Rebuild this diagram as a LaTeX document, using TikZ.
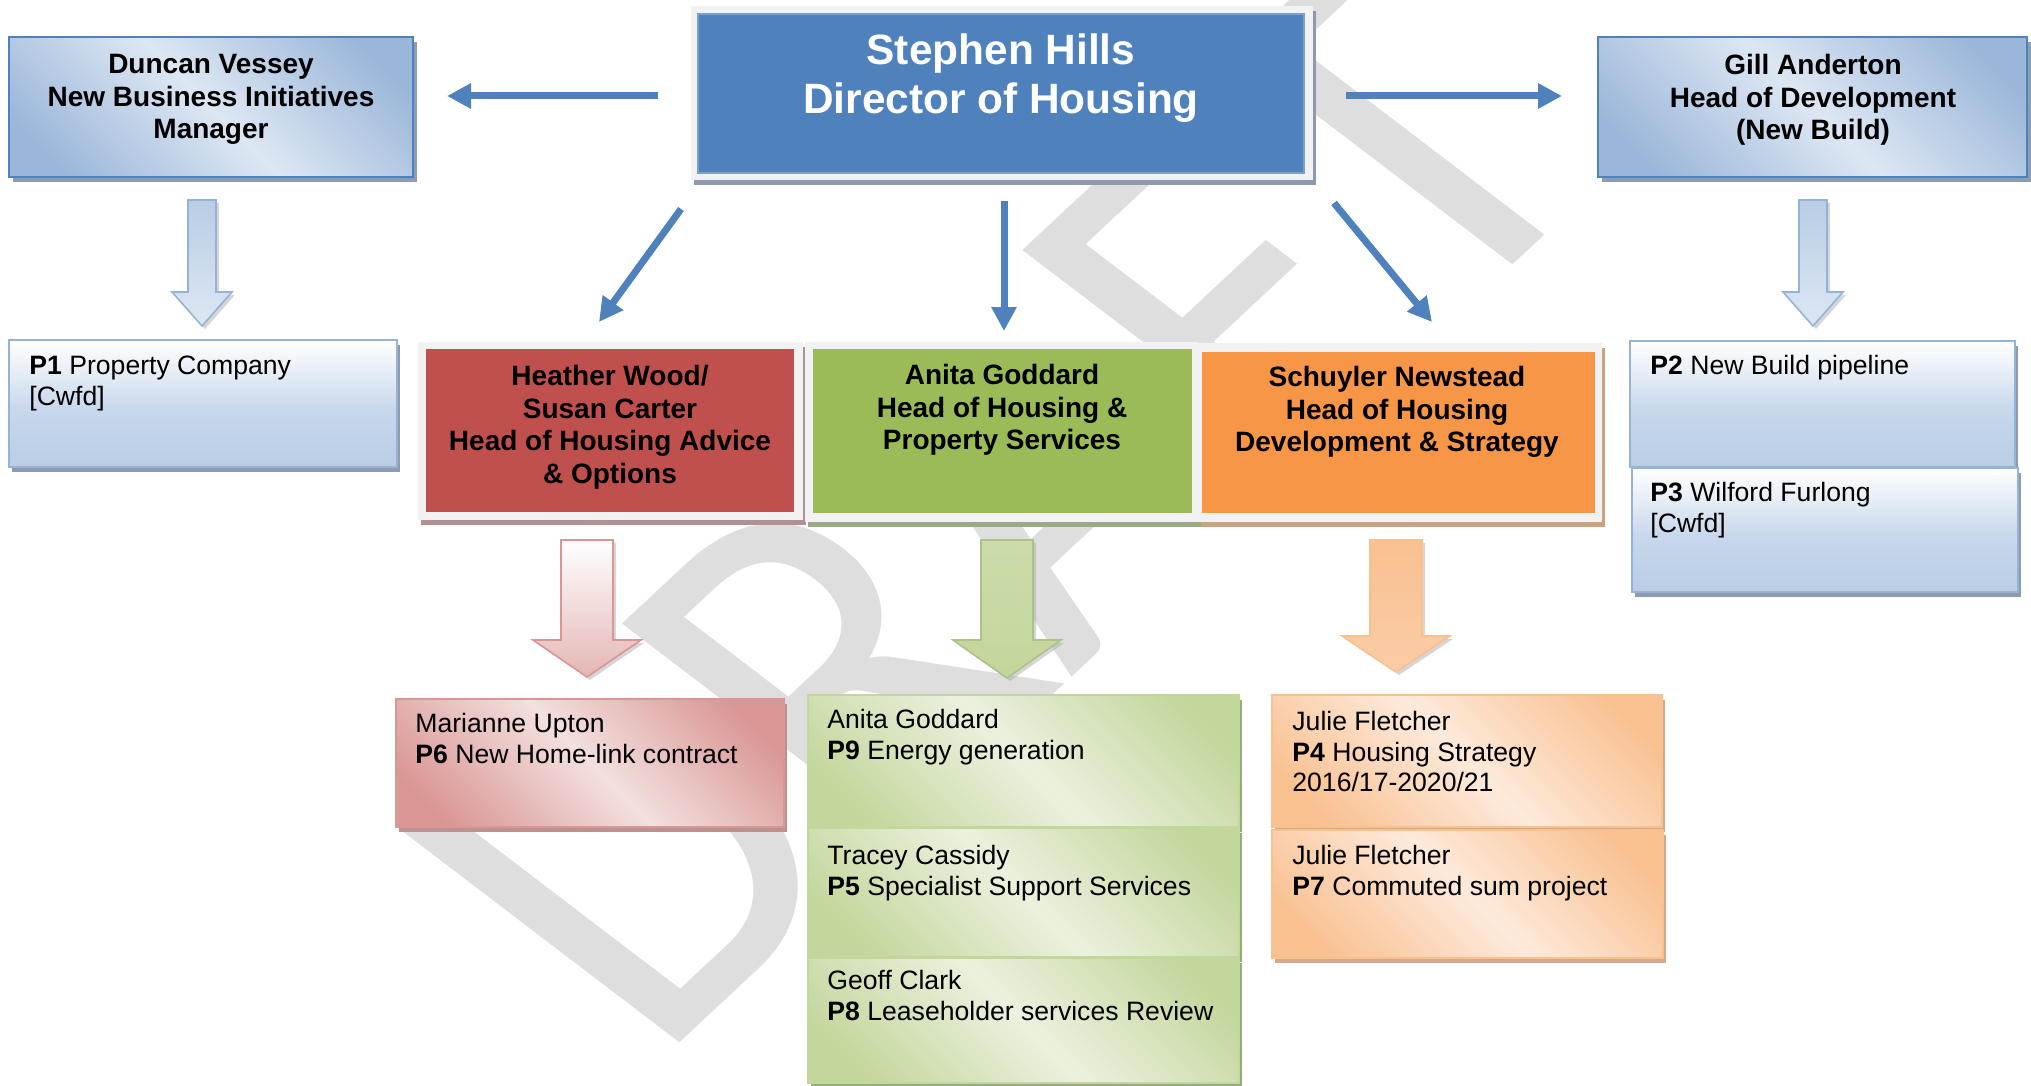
\documentclass[tikz,border=0pt]{standalone}
\usepackage{fontspec}
\setmainfont{Liberation Sans}
\newfontfamily\wmfont{Carlito}
\usetikzlibrary{arrows.meta,shadows}
\definecolor{hblue}{HTML}{4F81BD}
\definecolor{hred}{HTML}{C0504D}
\definecolor{hgreen}{HTML}{9BBB59}
\definecolor{horange}{HTML}{F79646}
\definecolor{frameC}{HTML}{F2F2F2}
\definecolor{wmC}{HTML}{DEDEDE}
\definecolor{bL}{HTML}{DDE7F3}
\definecolor{bD}{HTML}{9AB6D9}
\definecolor{bE}{HTML}{95B3D7}
\definecolor{pL}{HTML}{F3E0DF}
\definecolor{pD}{HTML}{D99694}
\definecolor{gL}{HTML}{EBF1DE}
\definecolor{gD}{HTML}{C3D69B}
\definecolor{oL}{HTML}{FDEADB}
\definecolor{oD}{HTML}{F9C090}
\definecolor{vBa}{HTML}{B9CDE5}
\definecolor{vBb}{HTML}{C8D8EC}
\definecolor{vBc}{HTML}{E6EDF6}
\definecolor{shB}{HTML}{8E9CB2}
\definecolor{shS}{HTML}{8D99AE}
\definecolor{shR}{HTML}{B09292}
\definecolor{shG}{HTML}{9AAA85}
\definecolor{shO}{HTML}{C9A282}
\definecolor{shP}{HTML}{BE9191}
\definecolor{shLG}{HTML}{98AB7C}
\definecolor{shLO}{HTML}{D2A98A}
\pgfdeclarehorizontalshading{diagB}{100bp}{color(0bp)=(bD); color(22bp)=(bD); color(50bp)=(bL); color(78bp)=(bD); color(100bp)=(bD)}
\pgfdeclarehorizontalshading{diagP}{100bp}{color(0bp)=(pD); color(22bp)=(pD); color(50bp)=(pL); color(78bp)=(pD); color(100bp)=(pD)}
\pgfdeclarehorizontalshading{diagG}{100bp}{color(0bp)=(gD); color(22bp)=(gD); color(50bp)=(gL); color(78bp)=(gD); color(100bp)=(gD)}
\pgfdeclarehorizontalshading{diagO}{100bp}{color(0bp)=(oD); color(22bp)=(oD); color(50bp)=(oL); color(78bp)=(oD); color(100bp)=(oD)}
\pgfdeclareverticalshading{vertB}{100bp}{color(0bp)=(vBa); color(25bp)=(vBa); color(48bp)=(vBb); color(62bp)=(vBc); color(75bp)=(white); color(100bp)=(white)}
\newcommand\blockarr[7]{\path[#1] (#2-#4,#3) -- (#2+#4,#3) -- (#2+#4,#6) -- (#2+#5,#6) -- (#2,#7) -- (#2-#5,#6) -- (#2-#4,#6) -- cycle;}
\begin{document}
\begin{tikzpicture}[x=0.5pt,y=-0.5pt,
  hdrtxt/.style={font=\bfseries\fontsize{14}{16.25}\selectfont, align=center, anchor=north, inner sep=0pt},
  lowtxt/.style={font=\fontsize{13.3}{15.25}\selectfont, align=left, anchor=north west, inner sep=0pt},
  hdrbox/.style={draw=hblue, line width=1.2pt, shading=diagB, shading angle=45, inner sep=0pt,
     drop shadow={shadow xshift=2pt, shadow yshift=-2.5pt, opacity=1, fill=shB}},
  framebox/.style={fill=frameC, inner sep=0pt, drop shadow={shadow xshift=1.5pt, shadow yshift=-2.5pt, opacity=1, fill=#1}},
  colbox/.style={fill=#1, inner sep=0pt},
  lowB/.style={draw=bE, line width=0.9pt, shading=vertB, inner sep=0pt,
     drop shadow={shadow xshift=1.5pt, shadow yshift=-2.5pt, opacity=1, fill=shB}},
  lowD/.style={draw=#1, line width=0.9pt, inner sep=0pt, shading angle=45},
  conn/.style={draw=hblue, line width=3.5pt, -{Triangle[length=12pt,width=12pt]}},
  bshadow/.style={fill=black!35, opacity=0.45, shift={(1.5pt,-1.5pt)}},
  wmark/.style={font=\wmfont\fontsize{245}{245}\selectfont, text=wmC, inner sep=0pt}
]
\useasboundingbox (0,0) rectangle (2031,1086);
\fill[white] (0,0) rectangle (2031,1086);
% watermark
\begin{scope}
\clip (0,0) rectangle (2031,1086);
\node[wmark, cm={0.731,0.682,-0.887,0.676,(0,0)}, anchor=base west] (wm) at (655,1066) {DRAFT};
\end{scope}

% top row
\node[hdrbox, minimum width=202pt, minimum height=70pt] (dv) at (211,107) {};
\node[hdrtxt] (dvt) at (211,54) {Duncan Vessey\\New Business Initiatives\\Manager};

\node[framebox=shS, minimum width=311pt, minimum height=87pt] (shf) at (1002,93) {};
\node[colbox=hblue, draw=hblue!75!white, line width=0.6pt, minimum width=303pt, minimum height=79.5pt] (sh) at (1001,93.5) {};
\node[hdrtxt, font=\bfseries\fontsize{21.2}{24.5}\selectfont, text=white] (sht) at (1001,33) {Stephen Hills\\Director of Housing};

\node[hdrbox, minimum width=214.5pt, minimum height=70pt] (ga) at (1812.5,107) {};
\node[hdrtxt] (gat) at (1813,54) {Gill Anderton\\Head of Development\\(New Build)};

% arrows from director
\coordinate (aL1) at (658,96); \coordinate (aL2) at (447,96);
\coordinate (aR1) at (1346,96); \coordinate (aR2) at (1562,96);
\coordinate (aM1) at (1004,201); \coordinate (aM2) at (1004,331);
\coordinate (aD1) at (681,209); \coordinate (aD2) at (599,322);
\coordinate (aE1) at (1334,203); \coordinate (aE2) at (1432,322);
\draw[conn] (aL1) -- (aL2);
\draw[conn] (aR1) -- (aR2);
\draw[conn] (aM1) -- (aM2);
\draw[conn] (aD1) -- (aD2);
\draw[conn] (aE1) -- (aE2);

% blue block arrows
\blockarr{bshadow}{202}{200}{14}{30}{292}{326}
\blockarr{draw=bE, line width=0.8pt, top color=vBa, bottom color=bL}{202}{200}{14}{30}{292}{326}
\blockarr{bshadow}{1813}{200}{14}{30}{292}{326}
\blockarr{draw=bE, line width=0.8pt, top color=vBa, bottom color=bL}{1813}{200}{14}{30}{292}{326}

% middle row
\node[framebox=shR, minimum width=192.5pt, minimum height=89pt] (hwf) at (610.5,431) {};
\node[colbox=hred, minimum width=184pt, minimum height=81.5pt] (hw) at (610,430.5) {};
\node[hdrtxt] (hwt) at (610,365) {Heather Wood/\\Susan Carter\\Head of Housing Advice\\\& Options};

\node[framebox=shG, minimum width=196.5pt, minimum height=90pt] (agf) at (1001.5,432) {};
\node[colbox=hgreen, minimum width=189.5pt, minimum height=82pt] (ag) at (1002.5,431) {};
\node[hdrtxt] (agt) at (1002,364) {Anita Goddard\\Head of Housing \&\\Property Services};

\node[framebox=shO, minimum width=202pt, minimum height=89.5pt] (snf) at (1400,432.5) {};
\node[colbox=horange, minimum width=196.5pt, minimum height=80.5pt] (sn) at (1398.5,432.5) {};
\node[hdrtxt] (snt) at (1397,366) {Schuyler Newstead\\Head of Housing\\Development \& Strategy};

% side project boxes
\node[lowB, minimum width=194pt, minimum height=63.5pt] (p1) at (203,403.5) {};
\node[lowtxt] (p1t) at (29,356) {\textbf{P1} Property Company\\{}[Cwfd]};
\node[lowB, minimum width=192.5pt, minimum height=63pt] (p2) at (1822.5,404) {};
\node[lowtxt] (p2t) at (1650,355) {\textbf{P2} New Build pipeline};
\node[lowB, minimum width=193pt, minimum height=62pt] (p3) at (1825,530) {};
\node[lowtxt] (p3t) at (1650,482) {\textbf{P3} Wilford Furlong\\{}[Cwfd]};

% coloured block arrows
\blockarr{bshadow}{587}{540}{26}{54}{640}{677}
\blockarr{draw=pD, line width=0.8pt, top color=white, bottom color=pD!70!white}{587}{540}{26}{54}{640}{677}
\blockarr{bshadow}{1007}{540}{26}{54}{640}{678}
\blockarr{draw=gD!90!black, line width=0.8pt, top color=gD!85!white, middle color=gL, bottom color=gD}{1007}{540}{26}{54}{640}{678}
\blockarr{bshadow}{1396}{540}{26}{54}{636}{672}
\blockarr{draw=oD, line width=0.8pt, top color=oD, middle color=oL, bottom color=oD!80!white}{1396}{540}{26}{54}{636}{672}

% lower boxes
\node[lowD=pD, shading=diagP, shading angle=45, drop shadow={shadow xshift=1.5pt, shadow yshift=-2.5pt, opacity=1, fill=shP}, minimum width=194pt, minimum height=64pt] (p6) at (590,763) {};
\node[lowtxt] (p6t) at (415,713) {Marianne Upton\\\textbf{P6} New Home-link contract};

\node[lowD=gD, shading=diagG, shading angle=45, drop shadow={shadow xshift=1.5pt, shadow yshift=-2.5pt, opacity=1, fill=shLG}, minimum width=215.5pt, minimum height=66pt] (p9) at (1023.5,761) {};
\node[lowtxt] (p9t) at (827,709) {Anita Goddard\\\textbf{P9} Energy generation};
\node[lowD=gD, shading=diagG, shading angle=45, drop shadow={shadow xshift=1.5pt, shadow yshift=-2.5pt, opacity=1, fill=shLG}, minimum width=215.5pt, minimum height=64.5pt] (p5) at (1023.5,892.5) {};
\node[lowtxt] (p5t) at (827,845) {Tracey Cassidy\\\textbf{P5} Specialist Support Services};
\node[lowD=gD, shading=diagG, shading angle=45, drop shadow={shadow xshift=1.5pt, shadow yshift=-2.5pt, opacity=1, fill=shLG}, minimum width=215.5pt, minimum height=62.5pt] (p8) at (1023.5,1020.5) {};
\node[lowtxt] (p8t) at (827,970) {Geoff Clark\\\textbf{P8} Leaseholder services Review};

\node[lowD=oD, shading=diagO, shading angle=45, drop shadow={shadow xshift=1.5pt, shadow yshift=-2.5pt, opacity=1, fill=shLO}, minimum width=195pt, minimum height=66pt] (p4) at (1467,761) {};
\node[lowtxt] (p4t) at (1292,711) {Julie Fletcher\\\textbf{P4} Housing Strategy\\2016/17-2020/21};
\node[lowD=oD, shading=diagO, shading angle=45, drop shadow={shadow xshift=1.5pt, shadow yshift=-2.5pt, opacity=1, fill=shLO}, minimum width=195.5pt, minimum height=64pt] (p7) at (1467.5,894) {};
\node[lowtxt] (p7t) at (1292,845) {Julie Fletcher\\\textbf{P7} Commuted sum project};
\end{tikzpicture}
\end{document}
